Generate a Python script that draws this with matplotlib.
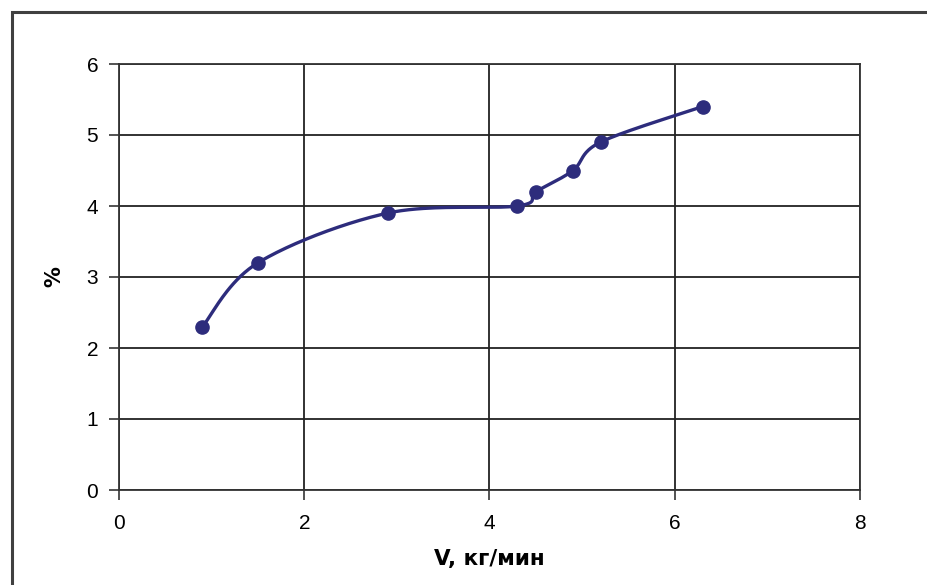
import numpy as np
import matplotlib.pyplot as plt
from matplotlib.patches import Rectangle

# data
v_flow = [0.9, 1.5, 2.9, 4.3, 4.5, 4.9, 5.2, 6.3]
percent = [2.3, 3.2, 3.9, 4.0, 4.2, 4.5, 4.9, 5.4]
x_ticks = [0, 2, 4, 6, 8]
y_ticks = [0, 1, 2, 3, 4, 5, 6]

LINE_COLOR = '#2d2c7c'


# Excel-like smoothed line: Catmull-Rom through the points as cubic Bezier segments
def smooth_curve(xs, ys, steps=40):
    p = np.column_stack([xs, ys]).astype(float)
    n = len(p)
    out = []
    for i in range(n - 1):
        p0 = p[i - 1] if i > 0 else p[i]
        p1 = p[i]
        p2 = p[i + 1]
        p3 = p[i + 2] if i + 2 < n else p[i + 1]
        c1 = p1 + (p2 - p0) / 6.0
        c2 = p2 - (p3 - p1) / 6.0
        t = np.linspace(0, 1, steps)[:, None]
        seg = ((1 - t) ** 3) * p1 + 3 * ((1 - t) ** 2) * t * c1 + 3 * (1 - t) * t ** 2 * c2 + t ** 3 * p2
        out.append(seg if i == 0 else seg[1:])
    curve = np.vstack(out)
    return curve[:, 0], curve[:, 1]


plt.rcParams['font.family'] = ['Liberation Sans', 'DejaVu Sans']

fig = plt.figure(figsize=(9.28, 5.85), dpi=100)
ax = fig.add_axes([119 / 928, 95 / 585, 741 / 928, 426 / 585])

# outer chart frame (runs off the right and bottom of the picture)
fig.patches.append(Rectangle((12 / 928, -0.1), 1.0, 1.1 - 12 / 585,
                             transform=fig.transFigure, fill=False,
                             edgecolor='#404040', linewidth=2.2))

sx, sy = smooth_curve(v_flow, percent)
ax.plot(sx, sy, color=LINE_COLOR, linewidth=2.4, zorder=3)
ax.plot(v_flow, percent, linestyle='none', marker='o', markersize=9.5,
        color=LINE_COLOR, zorder=4)

ax.set_xlim(0, 8)
ax.set_ylim(0, 6)
ax.set_xticks(x_ticks)
ax.set_yticks(y_ticks)
ax.grid(True, color='#222222', linewidth=1.3)
ax.set_axisbelow(True)

for side in ['top', 'right', 'left', 'bottom']:
    ax.spines[side].set_color('#333333')
    ax.spines[side].set_linewidth(1.3)

ax.tick_params(axis='both', direction='out', length=7, width=1.3, color='#444444',
               labelsize=15, pad=8)
ax.tick_params(axis='x', pad=10)

ax.set_xlabel('V, кг/мин', fontsize=15.5, fontweight='bold', family='DejaVu Sans',
              labelpad=12)
ax.set_ylabel('%', fontsize=15, fontweight='bold', family='DejaVu Sans', labelpad=16)

fig.savefig('out.png', dpi=100)
